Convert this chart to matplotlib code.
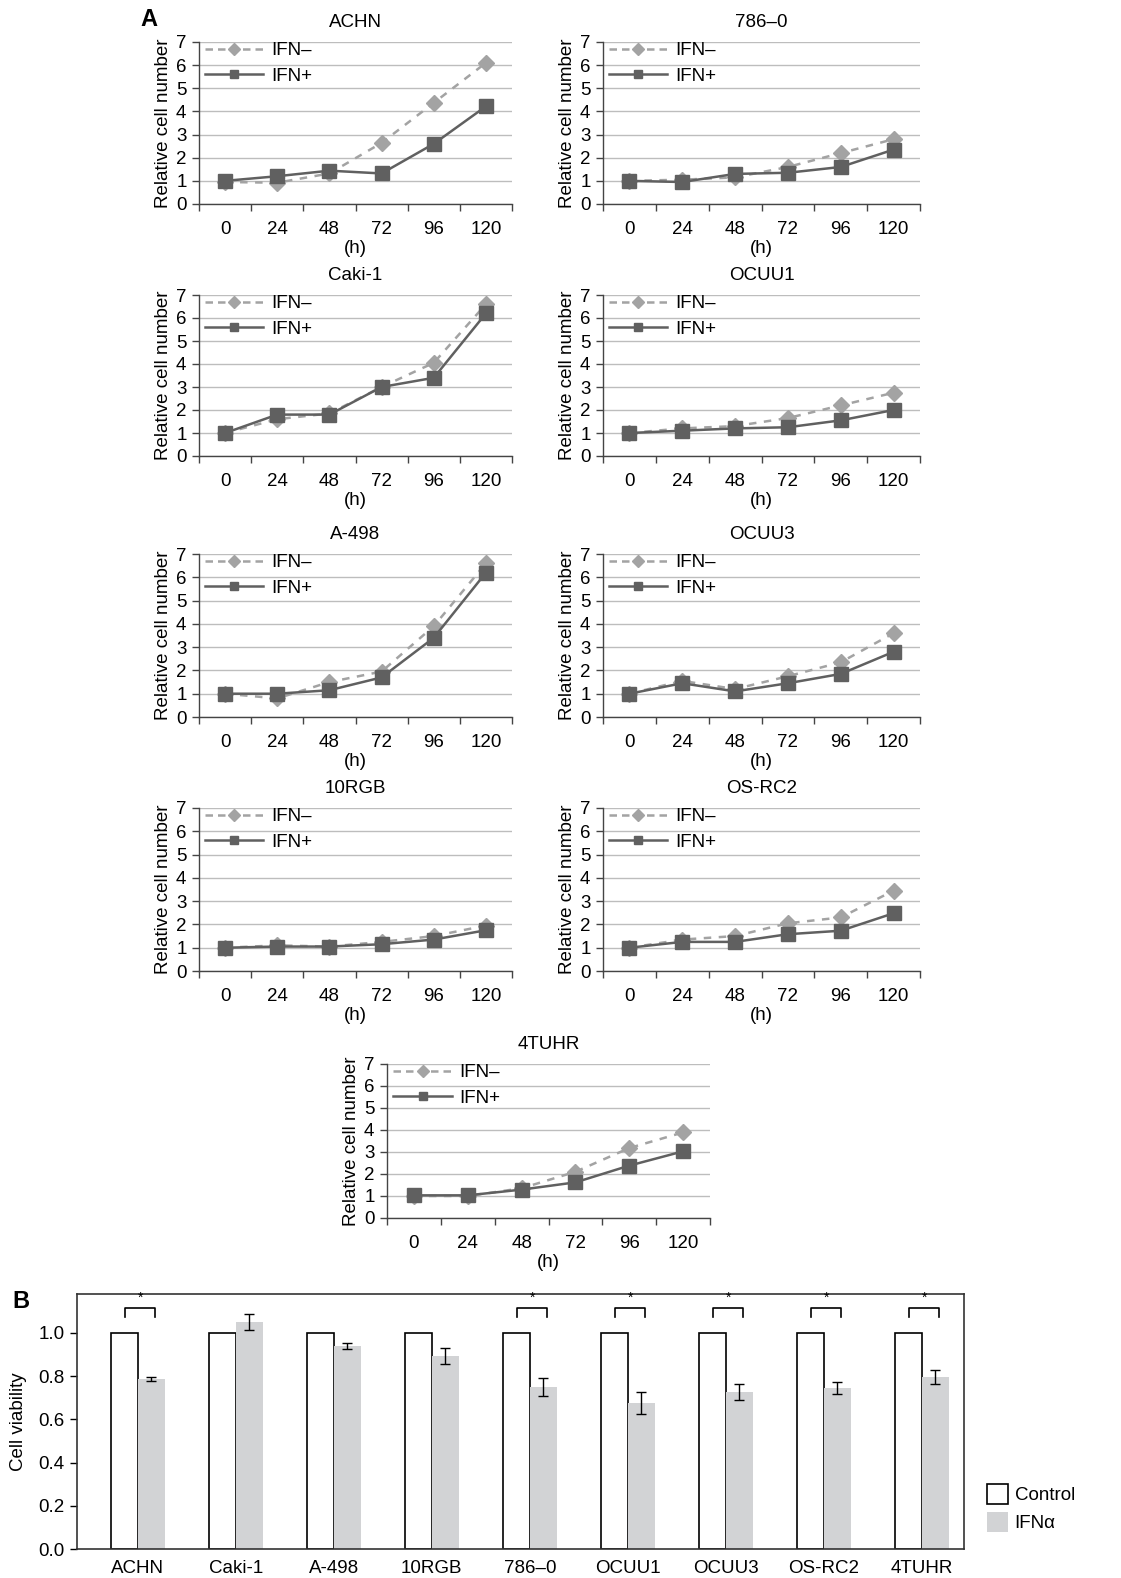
import numpy as np
import matplotlib
matplotlib.use('Agg')
import matplotlib.pyplot as plt
from matplotlib.lines import Line2D
from matplotlib.patches import Patch

plt.rcParams['font.family'] = ['Liberation Sans', 'DejaVu Sans']
plt.rcParams['font.size'] = 13

# ---- data: panel A (relative cell number) ----
hours = ['0', '24', '48', '72', '96', '120']

ifn_minus = {
    'ACHN':   [0.95, 0.92, 1.32, 2.64, 4.37, 6.10],
    '786–0':  [1.00, 1.05, 1.15, 1.60, 2.20, 2.80],
    'Caki-1': [1.00, 1.60, 1.85, 3.00, 4.05, 6.60],
    'OCUU1':  [1.00, 1.20, 1.30, 1.65, 2.20, 2.75],
    'A-498':  [1.00, 0.80, 1.50, 1.95, 3.90, 6.60],
    'OCUU3':  [1.00, 1.55, 1.20, 1.75, 2.35, 3.60],
    '10RGB':  [1.00, 1.10, 1.05, 1.25, 1.50, 1.95],
    'OS-RC2': [1.00, 1.35, 1.50, 2.05, 2.30, 3.45],
    '4TUHR':  [1.00, 1.00, 1.35, 2.10, 3.18, 3.89],
}
ifn_plus = {
    'ACHN':   [1.00, 1.20, 1.44, 1.32, 2.60, 4.22],
    '786–0':  [1.00, 0.95, 1.30, 1.35, 1.60, 2.35],
    'Caki-1': [1.00, 1.80, 1.80, 3.00, 3.40, 6.20],
    'OCUU1':  [1.00, 1.10, 1.20, 1.25, 1.55, 2.00],
    'A-498':  [1.00, 1.00, 1.15, 1.70, 3.40, 6.20],
    'OCUU3':  [1.00, 1.45, 1.10, 1.45, 1.85, 2.80],
    '10RGB':  [1.00, 1.05, 1.05, 1.15, 1.35, 1.75],
    'OS-RC2': [1.00, 1.25, 1.25, 1.58, 1.73, 2.48],
    '4TUHR':  [1.03, 1.03, 1.29, 1.62, 2.38, 3.03],
}

# ---- data: panel B (cell viability) ----
b_lines = ['ACHN', 'Caki-1', 'A-498', '10RGB', '786–0', 'OCUU1', 'OCUU3', 'OS-RC2', '4TUHR']
control = [1.0, 1.0, 1.0, 1.0, 1.0, 1.0, 1.0, 1.0, 1.0]
ifn_alpha = [0.787, 1.051, 0.940, 0.893, 0.750, 0.676, 0.727, 0.745, 0.796]
ifn_alpha_err = [0.008, 0.038, 0.015, 0.039, 0.040, 0.050, 0.037, 0.028, 0.032]
significant = [True, False, False, False, True, True, True, True, True]

W, H = 1121, 1578
fig = plt.figure(figsize=(W / 100, H / 100), dpi=100)


def px_axes(left, top, right, bottom):
    return fig.add_axes([left / W, 1 - bottom / H, (right - left) / W, (bottom - top) / H])


C_MINUS = '#a3a3a3'
C_PLUS = '#606060'
FS = 13.5

# panel positions (left, top, right, bottom) in pixels
rects = {
    'ACHN':   (199, 42, 512, 204),
    '786–0':  (603, 42, 920, 204),
    'Caki-1': (199, 295, 512, 456),
    'OCUU1':  (603, 295, 920, 456),
    'A-498':  (199, 554, 512, 717),
    'OCUU3':  (603, 554, 920, 717),
    '10RGB':  (199, 808, 512, 971),
    'OS-RC2': (603, 808, 920, 971),
    '4TUHR':  (387, 1064, 710, 1218),
}

x = np.arange(len(hours))
for name, r in rects.items():
    ax = px_axes(*r)
    ax.plot(x, ifn_minus[name], color=C_MINUS, lw=1.8, ls=(0, (3, 3)),
            marker='D', ms=8.5, mec=C_MINUS, mfc=C_MINUS, zorder=3)
    ax.plot(x, ifn_plus[name], color=C_PLUS, lw=1.8, ls='-',
            marker='s', ms=9.5, mec=C_PLUS, mfc=C_PLUS, zorder=4)
    ax.set_xlim(-0.5, len(hours) - 0.5)
    ax.set_ylim(0, 7)
    ax.set_yticks(range(8))
    ax.set_xticks(x)
    ax.set_xticklabels(hours)
    ax.set_xticks(np.arange(-0.5, len(hours)), minor=True)
    ax.tick_params(axis='x', which='major', length=0, pad=12, labelsize=FS)
    ax.tick_params(axis='x', which='minor', length=5, width=1, color='#444444')
    ax.tick_params(axis='y', length=5, width=1, color='#444444', pad=4, labelsize=FS)
    ax.yaxis.grid(True, color='#bdbdbd', lw=1)
    ax.set_axisbelow(True)
    for s in ['top', 'right']:
        ax.spines[s].set_visible(False)
    for s in ['left', 'bottom']:
        ax.spines[s].set_color('#444444')
        ax.spines[s].set_linewidth(1)
    ax.set_title(name, fontsize=FS, pad=11)
    ax.set_xlabel('(h)', fontsize=FS, labelpad=2)
    ax.set_ylabel('Relative cell number', fontsize=FS, labelpad=3)
    handles = [
        Line2D([], [], color=C_MINUS, lw=1.8, ls=(0, (3, 2)), marker='D', ms=6,
               mec=C_MINUS, mfc=C_MINUS),
        Line2D([], [], color=C_PLUS, lw=1.8, ls='-', marker='s', ms=6,
               mec=C_PLUS, mfc=C_PLUS),
    ]
    ax.legend(handles, ['IFN–', 'IFN+'], loc='upper left', bbox_to_anchor=(0.02, 1.0),
              frameon=False, borderpad=0, borderaxespad=0, handlelength=3.1,
              handletextpad=0.4, labelspacing=0.45, fontsize=FS)

fig.text(140 / W, 1 - 20 / H, 'A', fontsize=17, fontweight='bold', va='center', ha='left')
fig.text(12 / W, 1 - 1302 / H, 'B', fontsize=17, fontweight='bold', va='center', ha='left')

# ---- panel B ----
axb = px_axes(77, 1294, 964, 1549)
xb = np.arange(len(b_lines))
bw = 0.275
axb.bar(xb, control, width=-bw, align='edge', color='white', edgecolor='black', lw=1.2)
axb.bar(xb, ifn_alpha, width=bw, align='edge', color='#d2d3d5', edgecolor='none')
axb.errorbar(xb + bw / 2, ifn_alpha, yerr=ifn_alpha_err, fmt='none', ecolor='black',
             elinewidth=1, capsize=3.5, capthick=1)
for i, sig in enumerate(significant):
    if sig:
        x0, x1 = i - 0.13, i + 0.18
        axb.plot([x0, x0, x1, x1], [1.074, 1.116, 1.116, 1.074], color='black', lw=1.2)
        axb.text((x0 + x1) / 2, 1.128, '*', ha='center', va='bottom', fontsize=10)
axb.set_xlim(-0.62, len(b_lines) - 1 + 0.43)
axb.set_ylim(0, 1.18)
axb.set_yticks([0, 0.2, 0.4, 0.6, 0.8, 1.0])
axb.set_yticklabels(['0.0', '0.2', '0.4', '0.6', '0.8', '1.0'])
axb.set_xticks(xb)
axb.set_xticklabels(b_lines)
axb.tick_params(axis='x', length=0, pad=8, labelsize=FS)
axb.tick_params(axis='y', length=5, width=1, pad=4, labelsize=FS)
for s in axb.spines.values():
    s.set_linewidth(1.2)
    s.set_color('#333333')
axb.set_ylabel('Cell viability', fontsize=13.5, labelpad=8)

fig.legend([Patch(facecolor='white', edgecolor='black', lw=1.2),
            Patch(facecolor='#d2d3d5', edgecolor='none')],
           ['Control', 'IFNα'], loc='center left',
           bbox_to_anchor=(978 / W, 1 - 1508 / H), frameon=False, borderpad=0,
           handlelength=1.1, handleheight=1.3, handletextpad=0.35,
           labelspacing=0.4, fontsize=FS)

fig.savefig('out.png', dpi=100)
